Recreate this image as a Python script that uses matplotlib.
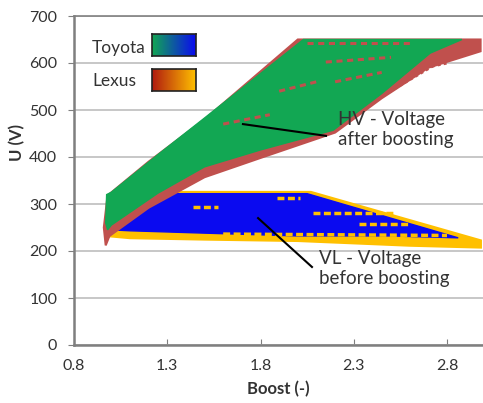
import numpy as np
import matplotlib.pyplot as plt
from matplotlib.colors import LinearSegmentedColormap

plt.rcParams['font.family'] = ['Lato', 'DejaVu Sans']

# Outlines of the point clouds (Boost, U in V)
toyota_hv_x = [0.97, 0.98, 1.00, 1.25, 1.50, 1.80, 2.19, 2.45, 2.71, 2.88, 2.03, 1.50, 1.25, 1.00, 0.975]
toyota_hv_y = [260, 245, 255, 323, 379, 415, 457, 535, 621, 650, 650, 483, 405, 325, 320]

lexus_hv_x = [0.96, 0.97, 0.99, 1.20, 1.50, 1.80, 2.00, 2.20, 2.45, 2.70, 2.98, 2.98, 2.00, 1.50, 1.20, 0.98]
lexus_hv_y = [250, 212, 232, 292, 357, 398, 425, 452, 525, 590, 625, 650, 650, 480, 390, 318]

toyota_vl_x = [1.00, 1.02, 1.30, 2.05, 2.86, 2.50, 2.00, 1.50, 1.10]
toyota_vl_y = [245, 270, 322, 322, 228, 232, 232, 238, 243]

lexus_vl_x = [0.99, 1.00, 1.30, 2.07, 2.98, 2.98, 2.60, 2.00, 1.50, 1.10]
lexus_vl_y = [232, 255, 325, 325, 222, 208, 212, 222, 225, 228]

# yellow streaks seen inside the blue cloud
streak_x = [[1.89, 2.01], [2.08, 2.51], [2.33, 2.60], [1.44, 1.57], [1.60, 2.80]]
streak_y = [[312, 312], [280, 280], [258, 258], [294, 294], [236, 233]]

# red dotted trails to the right of the HV cloud, and red patches inside it
trail_x = [[2.37, 2.69, 2.80], [2.46, 2.75, 2.98], [2.55, 2.85]]
trail_y = [[521, 591, 600], [532, 600, 640], [600, 650]]
patch_x = [[2.05, 2.60], [2.15, 2.50], [2.20, 2.45], [1.90, 2.10], [1.60, 1.85]]
patch_y = [[642, 642], [602, 612], [560, 580], [540, 560], [470, 490]]

yticks = [0, 100, 200, 300, 400, 500, 600, 700]
xticks = [0.8, 1.3, 1.8, 2.3, 2.8]

green = '#12a753'
red = '#c0504d'
blue = '#0a0af0'
yellow = '#ffc000'

fig = plt.figure(figsize=(4.83, 4.03), dpi=100)
ax = fig.add_axes([74/483, 58/403, 409/483, 329/403])

ax.fill(lexus_vl_x, lexus_vl_y, color=yellow, lw=2, zorder=2)
ax.fill(toyota_vl_x, toyota_vl_y, color=blue, lw=1, zorder=3)
for sx, sy in zip(streak_x, streak_y):
    ax.plot(sx, sy, color=yellow, lw=2.5, ls=(0, (2, 1)), zorder=4)
ax.fill(lexus_hv_x, lexus_hv_y, color=red, lw=1.5, zorder=5)
for tx, ty in zip(trail_x, trail_y):
    ax.plot(tx, ty, color=red, lw=2.2, ls=(0, (1, 1)), zorder=5)
ax.fill(toyota_hv_x, toyota_hv_y, color=green, lw=1, zorder=6)
for px, py in zip(patch_x, patch_y):
    ax.plot(px, py, color=red, lw=2.2, ls=(0, (2, 1.5)), zorder=7)

ax.set_xlim(0.8, 2.993)
ax.set_ylim(0, 700)
ax.set_xticks(xticks)
ax.set_yticks(yticks)
ax.set_xticklabels([f'{v:.1f}' for v in xticks])
ax.yaxis.grid(True, color='#bdbdbd', lw=1.2, zorder=0)
ax.set_axisbelow(True)
ax.spines['right'].set_visible(False)
for s in ['left', 'bottom']:
    ax.spines[s].set_color('#7f7f7f')
    ax.spines[s].set_linewidth(1.8)
ax.spines['top'].set_color('#808080')
ax.spines['top'].set_linewidth(1.2)
ax.tick_params(axis='y', length=4, direction='out', color='#7f7f7f', labelsize=11.5,
               pad=8, labelcolor='#333333')
ax.tick_params(axis='x', length=4, direction='in', color='#7f7f7f', labelsize=11.5,
               pad=10, labelcolor='#333333')

ax.set_xlabel('Boost (-)', fontsize=12, fontweight='bold', color='#333333', labelpad=6)
ax.set_ylabel('U (V)', fontsize=12, fontweight='bold', color='#333333')
ax.yaxis.set_label_coords(-0.12, 0.617)

# annotations
ax.plot([1.706, 2.151], [470, 445], color='black', lw=1.5, zorder=8)
ax.plot([1.787, 2.076], [270, 166], color='black', lw=1.5, zorder=8)
ax.text(2.216, 497, 'HV - Voltage\nafter boosting', fontsize=13.5, va='top', ha='left',
        color='#333333', linespacing=1.2, zorder=9)
ax.text(2.114, 202, 'VL - Voltage\nbefore boosting', fontsize=13.5, va='top', ha='left',
        color='#333333', linespacing=1.2, zorder=9)

# legend with gradient boxes
fig.text(92/483, 1 - 48/403, 'Toyota', fontsize=12.5, va='center', ha='left', color='#333333')
fig.text(92/483, 1 - 81/403, 'Lexus', fontsize=12.5, va='center', ha='left', color='#333333')
grad = np.linspace(0, 1, 256).reshape(1, -1)
for top, cols in [(34, [green, blue]), (69, ['#b01a10', yellow])]:
    lax = fig.add_axes([152/483, 1 - (top + 22)/403, 44/483, 22/403])
    lax.imshow(grad, aspect='auto', cmap=LinearSegmentedColormap.from_list('g', cols))
    lax.set_xticks([])
    lax.set_yticks([])
    for s in lax.spines.values():
        s.set_color('#222222')
        s.set_linewidth(1.2)

fig.savefig('out.png', dpi=100)
